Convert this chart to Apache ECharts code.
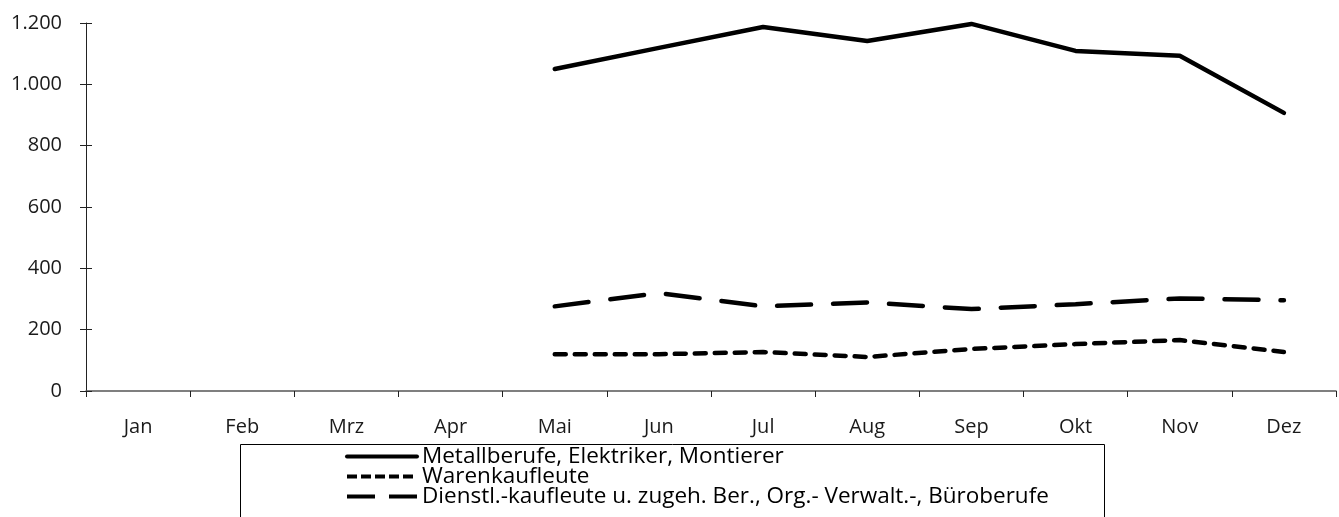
<!DOCTYPE html>
<html><head><meta charset="utf-8">
<script src="https://cdn.jsdelivr.net/npm/echarts@6/dist/echarts.min.js"></script>
<style>html,body{margin:0;padding:0;background:#fff}#c{width:1339px;height:517px}</style>
</head><body><div id="c"></div>
<script>
const categories = ['Jan','Feb','Mrz','Apr','Mai','Jun','Jul','Aug','Sep','Okt','Nov','Dez'];
const metall = [null,null,null,null,1050,1119,1187,1141,1197,1109,1093,907];
const waren = [null,null,null,null,120,120,127,111,137,153,166,127];
const dienst = [null,null,null,null,276,319,276,289,267,283,302,296];
const seriesNames = ['Metallberufe, Elektriker, Montierer','Warenkaufleute','Dienstl.-kaufleute u. zugeh. Ber., Org.- Verwalt.-, Büroberufe'];
const font = 'Open Sans';
const chart = echarts.init(document.getElementById('c'));
function fmt(v){return String(v).replace(/\B(?=(\d{3})+(?!\d))/g,'.');}
chart.setOption({
  animation:false,
  textStyle:{fontFamily:font},
  grid:{left:86,right:3,top:23,bottom:126,containLabel:false},
  graphic:[{type:'rect',shape:{x:240.5,y:444.5,width:864,height:90},style:{fill:'none',stroke:'#000',lineWidth:1}}],
  legend:{orient:'vertical',left:345,top:445,padding:0,itemGap:-3,itemWidth:70,itemHeight:18,
    itemStyle:{opacity:0},
    lineStyle:{width:4},
    textStyle:{fontFamily:font,fontSize:22.5,color:'#000',lineHeight:19},
    data:[
      {name:seriesNames[0],lineStyle:{type:'solid',width:4}},
      {name:seriesNames[1],lineStyle:{type:[10,4],width:4,cap:'butt'}},
      {name:seriesNames[2],lineStyle:{type:[28,14],width:4,cap:'butt'}}
    ]},
  xAxis:{type:'category',data:categories,boundaryGap:true,
    axisLine:{lineStyle:{color:'#555',width:1.5}},
    axisTick:{show:true,inside:false,length:6,lineStyle:{color:'#222'}},
    axisLabel:{fontFamily:font,fontSize:20,color:'#1a1a1a',margin:26}},
  yAxis:[{type:'value',min:0,max:1200,interval:200,
    axisLine:{show:true,lineStyle:{color:'#222'}},
    axisTick:{show:true,inside:false,length:6,lineStyle:{color:'#222'}},
    splitLine:{show:false},
    axisLabel:{fontFamily:font,fontSize:20,color:'#1a1a1a',margin:24,formatter:fmt}},
   {type:'value',min:0,max:1200,interval:200,position:'left',
    axisLine:{show:false},
    axisTick:{show:true,inside:true,length:6,lineStyle:{color:'#222'}},
    splitLine:{show:false},axisLabel:{show:false}}],
  series:[
    {name:seriesNames[0],type:'line',data:metall,symbol:'none',
      lineStyle:{color:'#000',width:4.5,cap:'round'},itemStyle:{color:'#000'}},
    {name:seriesNames[1],type:'line',data:waren,symbol:'none',
      lineStyle:{color:'#000',width:4.5,type:[11,9],cap:'round'},itemStyle:{color:'#000'}},
    {name:seriesNames[2],type:'line',data:dienst,symbol:'none',
      lineStyle:{color:'#000',width:4.5,type:[34,22],cap:'round'},itemStyle:{color:'#000'}}
  ]
});
</script></body></html>
